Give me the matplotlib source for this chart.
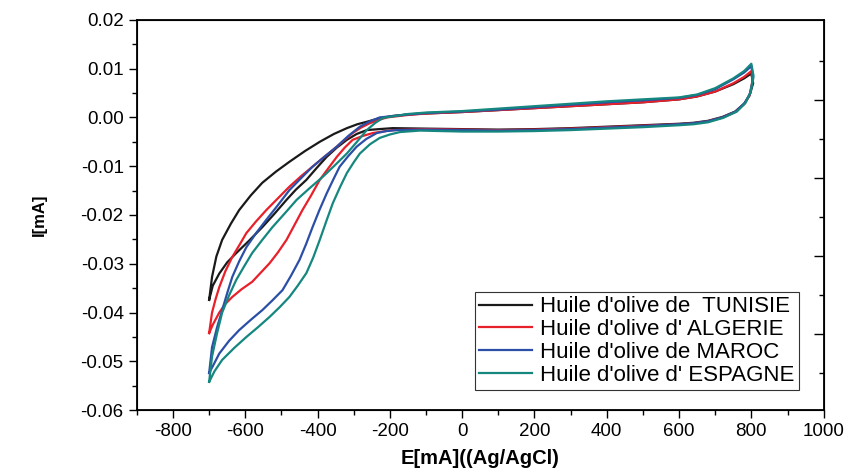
import numpy as np
import matplotlib
matplotlib.use('Agg')
import matplotlib.pyplot as plt
from matplotlib.ticker import MultipleLocator, FixedLocator, NullFormatter

plt.rcParams['font.family'] = ['Liberation Sans', 'DejaVu Sans']
plt.rcParams['axes.unicode_minus'] = False

# --- DANE ---
# galaz anodowa (-700 -> 800) i katodowa (800 -> -700)

tun_E_fwd = [-700, -692, -680, -664, -640, -617, -585, -553, -515, -478, -435, -394, -355, -319, -290,
             -264, -230, -192, -150, -100, 0, 100, 200, 300, 400, 500, 600, 650, 700, 750, 780, 800]
tun_I_fwd = [-0.0374, -0.0327, -0.0285, -0.0251, -0.0218, -0.0190, -0.0160, -0.0134, -0.0111, -0.0091,
             -0.0069, -0.0050, -0.0034, -0.0022, -0.0014, -0.0009, -0.0002, 0.0003, 0.0006, 0.0008,
             0.0011, 0.0015, 0.0019, 0.0023, 0.0027, 0.0031, 0.0037, 0.0043, 0.0053, 0.0068, 0.0080, 0.0090]
tun_E_rev = [800, 805, 795, 780, 755, 720, 680, 640, 600, 500, 400, 300, 200, 100, 0, -100, -192, -230,
             -264, -292, -319, -347, -375, -403, -431, -460, -486, -520, -553, -590, -625, -650, -672, -690, -700]
tun_I_rev = [0.0090, 0.0070, 0.0045, 0.0028, 0.0012, 0.0001, -0.0007, -0.0011, -0.0013, -0.0016, -0.0019,
             -0.0022, -0.0024, -0.0025, -0.0024, -0.0023, -0.0022, -0.0024, -0.0026, -0.0034, -0.0046,
             -0.0062, -0.0081, -0.0104, -0.0128, -0.0148, -0.0169, -0.0198, -0.0225, -0.0253, -0.0278,
             -0.0297, -0.0320, -0.0345, -0.0374]

alg_E_fwd = [-700, -692, -682, -672, -655, -636, -615, -597, -570, -542, -510, -478, -445, -414, -385,
             -358, -330, -303, -280, -256, -230, -208, -150, -100, 0, 100, 200, 300, 400, 500, 600, 650,
             700, 750, 780, 800]
alg_I_fwd = [-0.0442, -0.0400, -0.0372, -0.0348, -0.0315, -0.0286, -0.0260, -0.0237, -0.0213, -0.0190,
             -0.0166, -0.0142, -0.0120, -0.0101, -0.0083, -0.0067, -0.0049, -0.0032, -0.0021, -0.0012,
             -0.0005, 0.0000, 0.0005, 0.0008, 0.0011, 0.0015, 0.0019, 0.0023, 0.0027, 0.0031, 0.0037,
             0.0043, 0.0053, 0.0070, 0.0083, 0.0095]
alg_E_rev = [800, 803, 795, 780, 755, 720, 680, 640, 600, 500, 400, 300, 200, 100, 0, -100, -192, -220,
             -247, -275, -303, -325, -347, -370, -394, -418, -442, -465, -486, -510, -533, -557, -581,
             -610, -636, -655, -672, -690, -700]
alg_I_rev = [0.0095, 0.0075, 0.0045, 0.0027, 0.0011, 0.0000, -0.0008, -0.0012, -0.0014, -0.0017, -0.0020,
             -0.0023, -0.0025, -0.0026, -0.0025, -0.0024, -0.0026, -0.0029, -0.0032, -0.0038, -0.0046,
             -0.0062, -0.0081, -0.0104, -0.0128, -0.0160, -0.0190, -0.0222, -0.0251, -0.0277, -0.0299,
             -0.0318, -0.0337, -0.0352, -0.0368, -0.0382, -0.0400, -0.0425, -0.0442]

mar_E_fwd = [-700, -692, -678, -664, -650, -636, -617, -597, -570, -542, -510, -478, -445, -414, -380,
             -347, -315, -283, -255, -228, -150, -100, 0, 100, 200, 300, 400, 500, 600, 650, 700, 750,
             780, 800]
mar_I_fwd = [-0.0524, -0.0471, -0.0430, -0.0395, -0.0360, -0.0327, -0.0295, -0.0266, -0.0237, -0.0210,
             -0.0180, -0.0149, -0.0124, -0.0101, -0.0080, -0.0060, -0.0038, -0.0019, -0.0008, 0.0000,
             0.0006, 0.0009, 0.0012, 0.0016, 0.0021, 0.0026, 0.0031, 0.0035, 0.0040, 0.0046, 0.0058,
             0.0078, 0.0092, 0.0105]
mar_E_rev = [800, 805, 797, 782, 757, 720, 680, 640, 600, 500, 400, 300, 200, 100, 0, -100, -181, -210,
             -236, -265, -292, -316, -339, -357, -375, -395, -414, -432, -450, -474, -497, -525, -553,
             -585, -617, -645, -672, -690, -700]
mar_I_rev = [0.0105, 0.0080, 0.0050, 0.0030, 0.0012, 0.0000, -0.0008, -0.0012, -0.0014, -0.0018, -0.0021,
             -0.0024, -0.0026, -0.0027, -0.0026, -0.0025, -0.0026, -0.0028, -0.0032, -0.0044, -0.0060,
             -0.0080, -0.0101, -0.0128, -0.0156, -0.0190, -0.0225, -0.0260, -0.0292, -0.0325, -0.0354,
             -0.0375, -0.0395, -0.0415, -0.0436, -0.0458, -0.0484, -0.0510, -0.0524]

esp_E_fwd = [-700, -692, -678, -664, -645, -625, -603, -581, -553, -525, -490, -458, -422, -386, -352,
             -319, -290, -264, -240, -219, -150, -100, 0, 100, 200, 300, 400, 500, 600, 650, 700, 750,
             780, 800]
esp_I_fwd = [-0.0542, -0.0490, -0.0442, -0.0400, -0.0365, -0.0333, -0.0305, -0.0278, -0.0251, -0.0225,
             -0.0196, -0.0169, -0.0145, -0.0122, -0.0098, -0.0074, -0.0049, -0.0026, -0.0011, -0.0001,
             0.0007, 0.0010, 0.0013, 0.0018, 0.0023, 0.0028, 0.0033, 0.0037, 0.0041, 0.0047, 0.0060,
             0.0080, 0.0095, 0.0110]
esp_E_rev = [800, 806, 798, 784, 760, 722, 680, 640, 600, 500, 400, 300, 200, 100, 0, -117, -172, -200,
             -228, -255, -283, -300, -319, -338, -358, -376, -394, -412, -431, -455, -478, -505, -533,
             -565, -597, -630, -664, -685, -700]
esp_I_rev = [0.0110, 0.0085, 0.0052, 0.0030, 0.0012, -0.0001, -0.0010, -0.0014, -0.0016, -0.0020, -0.0023,
             -0.0026, -0.0028, -0.0029, -0.0029, -0.0027, -0.0030, -0.0035, -0.0042, -0.0055, -0.0074,
             -0.0092, -0.0114, -0.0143, -0.0176, -0.0213, -0.0251, -0.0287, -0.0319, -0.0345, -0.0368,
             -0.0389, -0.0409, -0.0430, -0.0450, -0.0472, -0.0497, -0.0520, -0.0542]

labels = ["Huile d'olive de  TUNISIE", "Huile d'olive d' ALGERIE",
          "Huile d'olive de MAROC", "Huile d'olive d' ESPAGNE"]
colors = ['#1a1a1a', '#e8202a', '#2b4fa6', '#15877f']

series = [(tun_E_fwd + tun_E_rev, tun_I_fwd + tun_I_rev),
          (alg_E_fwd + alg_E_rev, alg_I_fwd + alg_I_rev),
          (mar_E_fwd + mar_E_rev, mar_I_fwd + mar_I_rev),
          (esp_E_fwd + esp_E_rev, esp_I_fwd + esp_I_rev)]

# --- WYKRES ---
fig = plt.figure(figsize=(8.5, 4.72), dpi=100)
ax = fig.add_axes([0.161, 0.131, 0.808, 0.827])

for (E, I), lab, col in zip(series, labels, colors):
    ax.plot(E, I, color=col, lw=1.6, label=lab, solid_joinstyle='round')

ax.set_xlim(-900, 1000)
ax.set_ylim(-0.06, 0.02)
ax.xaxis.set_major_locator(MultipleLocator(200))
ax.xaxis.set_minor_locator(MultipleLocator(100))
ax.yaxis.set_major_locator(MultipleLocator(0.01))
ax.yaxis.set_minor_locator(MultipleLocator(0.005))
ax.yaxis.set_major_formatter(plt.FormatStrFormatter('%.2f'))
ax.tick_params(which='major', direction='out', length=6, width=1, labelsize=13.5, pad=3.5)
ax.tick_params(which='minor', direction='out', length=3.5, width=1)
ax.tick_params(top=False, right=False, which='both')
for s in ax.spines.values():
    s.set_linewidth(1.3)

# prawa os - ticki do srodka, inna skala jak w Origin
axr = ax.twinx()
axr.set_ylim(-0.06, 0.02)
axr.yaxis.set_major_locator(FixedLocator([0.0036, -0.0124, -0.0284, -0.0444]))
axr.yaxis.set_minor_locator(FixedLocator([0.0116, -0.0044, -0.0204, -0.0364, -0.0524]))
axr.yaxis.set_major_formatter(NullFormatter())
axr.tick_params(which='major', direction='in', length=7, width=1)
axr.tick_params(which='minor', direction='in', length=3.5, width=1)

ax.set_xlabel('E[mA]((Ag/AgCl)', fontsize=14.5, fontweight='bold', labelpad=6)
ax.set_ylabel('I[mA]', fontsize=12, fontweight='bold', labelpad=24)

leg = ax.legend(loc='lower right', bbox_to_anchor=(0.964, 0.051), borderaxespad=0,
                fontsize=16, handlelength=2.4, handletextpad=0.35, labelspacing=0.08,
                fancybox=False, framealpha=1, borderpad=0.2)
leg.get_frame().set_edgecolor('#333333')
leg.get_frame().set_linewidth(0.8)

fig.savefig('out.png', dpi=100)
